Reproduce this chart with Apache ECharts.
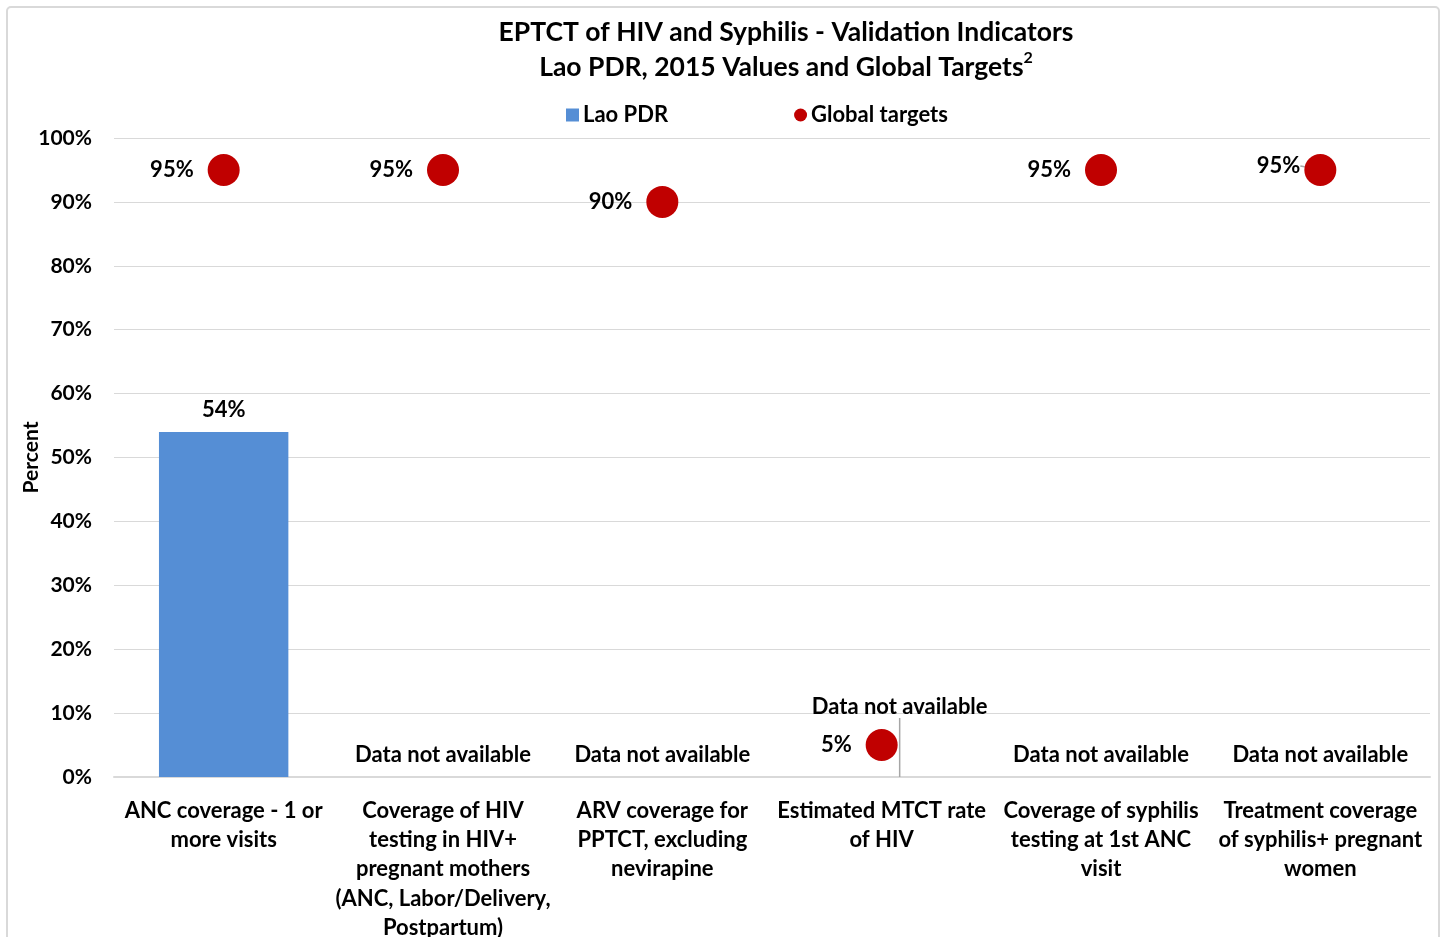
<!DOCTYPE html>
<html>
<head>
<meta charset="utf-8">
<title>EPTCT of HIV and Syphilis - Validation Indicators</title>
<script src="https://cdn.jsdelivr.net/npm/echarts@6/dist/echarts.min.js"></script>
<style>
  html, body { margin: 0; padding: 0; background: #fff; }
  #canvas { width: 1445px; height: 937px; }
</style>
</head>
<body>
<div id="canvas"></div>
<script>
// categories (line breaks as in the original)
let categories = [
  'ANC coverage - 1 or\nmore visits',
  'Coverage of HIV\ntesting in HIV+\npregnant mothers\n(ANC, Labor/Delivery,\nPostpartum)',
  'ARV coverage for\nPPTCT, excluding\nnevirapine',
  'Estimated MTCT rate\nof HIV',
  'Coverage of syphilis\ntesting at 1st ANC\nvisit',
  'Treatment coverage\nof syphilis+ pregnant\nwomen'
];

// Lao PDR 2015 values, null = data not available
let laoPdr = [54, null, null, null, null, null];

// global targets
let globalTargets = [95, 95, 90, 5, 95, 95];

let yTicks = [0, 10, 20, 30, 40, 50, 60, 70, 80, 90, 100];

let noData = 'Data not available';
let font = 'Lato, "Open Sans", sans-serif';
let lineColor = '#a6a6a6';

let canvas = document.getElementById('canvas');
let myChart = echarts.init(canvas);

// labels that Excel had dragged away get a leader line
let barData = laoPdr.map(function (v, i) {
  if (v === null) {
    return {
      value: 0,
      label: { formatter: noData },
      labelLine: { show: i === 3, lineStyle: { color: lineColor, width: 1.5 } }
    };
  }
  return v;
});

let targetData = globalTargets.map(function (v, i) {
  return {
    value: v,
    labelLine: { show: i === 5, lineStyle: { color: lineColor, width: 1.5 } }
  };
});

let option = {
  backgroundColor: '#fff',
  textStyle: { fontFamily: font },
  animation: false,
  graphic: [
    {
      type: 'rect',
      shape: { x: 7, y: 7, width: 1432, height: 960, r: 4 },
      style: { fill: 'none', stroke: '#d9d9d9', lineWidth: 2 },
      silent: true
    }
  ],
  title: {
    text: 'EPTCT of HIV and Syphilis - Validation Indicators\nLao PDR, 2015 Values and Global Targets{sup|2}',
    left: 781,
    top: 10,
    textAlign: 'center',
    textStyle: {
      fontFamily: font,
      fontSize: 26.5,
      fontWeight: 'bold',
      color: '#000',
      lineHeight: 35,
      rich: {
        sup: { fontSize: 16, fontWeight: 'bold', verticalAlign: 'top', lineHeight: 24, color: '#000', fontFamily: font }
      }
    }
  },
  legend: {
    data: [
      { name: 'Lao PDR', icon: 'rect' },
      { name: 'Global targets', icon: 'circle' }
    ],
    left: 561,
    top: 99,
    itemWidth: 13,
    itemHeight: 13,
    itemGap: 126,
    textStyle: { fontFamily: font, fontSize: 22, fontWeight: 'bold', color: '#000', padding: [0, 0, 0, -1] }
  },
  grid: {
    left: 114,
    right: 15,
    top: 138,
    bottom: 160,
    containLabel: false,
    outerBoundsMode: 'none'
  },
  xAxis: {
    type: 'category',
    data: categories,
    axisTick: { show: false },
    axisLine: { lineStyle: { color: '#d9d9d9', width: 2 } },
    axisLabel: {
      interval: 0,
      margin: 19,
      fontFamily: font,
      fontSize: 22,
      fontWeight: 'bold',
      color: '#000',
      lineHeight: 29.3
    }
  },
  yAxis: {
    type: 'value',
    min: yTicks[0],
    max: yTicks[yTicks.length - 1],
    interval: 10,
    name: 'Percent',
    nameLocation: 'middle',
    nameGap: 72,
    nameMoveOverlap: false,
    nameTextStyle: { fontFamily: font, fontSize: 21, fontWeight: 'bold', color: '#000' },
    axisLine: { show: false },
    axisTick: { show: false },
    splitLine: { lineStyle: { color: '#d9d9d9', width: 1 } },
    axisLabel: {
      formatter: '{value}%',
      margin: 22,
      fontFamily: font,
      fontSize: 21,
      fontWeight: 'bold',
      color: '#000'
    }
  },
  series: [
    {
      name: 'Lao PDR',
      type: 'bar',
      data: barData,
      barCategoryGap: '41%',
      itemStyle: { color: '#558ed5' },
      label: {
        show: true,
        position: 'top',
        distance: 11,
        formatter: '{c}%',
        fontFamily: font,
        fontSize: 22,
        fontWeight: 'bold',
        color: '#000'
      },
      labelLayout: function (params) {
        if (params.dataIndex === 3) {
          return { dx: 18, dy: -48 };
        }
        return {};
      },
      z: 2
    },
    {
      name: 'Global targets',
      type: 'scatter',
      data: targetData,
      symbol: 'circle',
      symbolSize: 32,
      itemStyle: { color: '#c00000', opacity: 1 },
      label: {
        show: true,
        position: 'left',
        distance: 14,
        formatter: '{c}%',
        fontFamily: font,
        fontSize: 22,
        fontWeight: 'bold',
        color: '#000'
      },
      labelLayout: function (params) {
        if (params.dataIndex === 5) {
          return { dx: 10, dy: -4 };
        }
        return {};
      },
      z: 3
    }
  ]
};

myChart.setOption(option, true);
</script>
</body>
</html>
